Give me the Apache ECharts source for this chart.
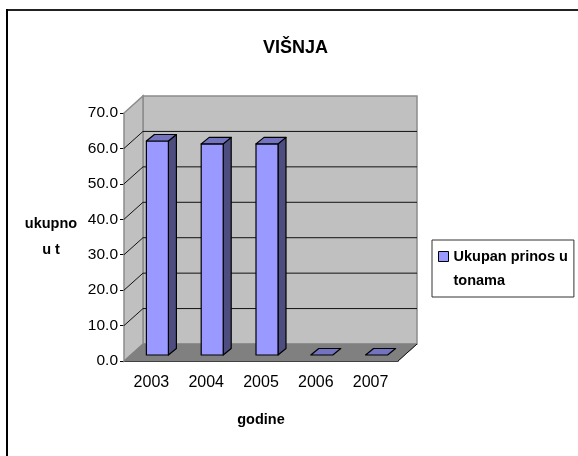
<!DOCTYPE html>
<html><head><meta charset="utf-8">
<style>html,body{margin:0;padding:0;background:#fff}#c{width:578px;height:456px}</style>
<script src="https://cdn.jsdelivr.net/npm/echarts@6/dist/echarts.min.js"></script>
</head><body><div id="c"></div>
<script>
const categories = ['2003','2004','2005','2006','2007'];
const seriesName = 'Ukupan prinos u tonama';
const values = [60.4, 59.6, 59.6, 0, 0];
const yTicks = [0,10,20,30,40,50,60,70];
const FONT = '"Liberation Sans", Arial, sans-serif';
const DX = 19, DY = -17;      // depth of the whole 3D box
const BX = 6, BY = -6;        // where the bars stand inside the box
const SX = 8, SY = -6.5;      // depth of each bar
const BAR_W = 22;
const chart = echarts.init(document.getElementById('c'), null, {renderer:'canvas'});
function pts(a){return {points:a};}
const wallsRender = (p, api) => {
  const L = api.coord([0,0]), T = api.coord([0,70]), R = api.coord([categories.length-1,0]);
  const band = api.size([1,0])[0];
  const x0 = L[0]-band/2, x1 = R[0]+band/2, y0 = L[1], y1 = T[1];
  const border = {stroke:'#8c8c8c', lineWidth:1.5};
  return {type:'group', children:[
    {type:'polygon', shape:pts([[x0+DX,y0+DY],[x1+DX,y0+DY],[x1+DX,y1+DY],[x0+DX,y1+DY]]), style:{fill:'#c0c0c0',...border}},
    {type:'polygon', shape:pts([[x0,y0],[x0+DX,y0+DY],[x0+DX,y1+DY],[x0,y1]]), style:{fill:'#c0c0c0',...border}},
    {type:'polygon', shape:pts([[x0,y0],[x1,y0],[x1+DX,y0+DY],[x0+DX,y0+DY]]), style:{fill:'#808080',stroke:'#808080',lineWidth:1}},
    {type:'line', shape:{x1:x1,y1:y0,x2:x1+DX,y2:y0+DY}, style:{stroke:'#111',lineWidth:1}}
  ]};
};
const gridRender = (p, api) => {
  const v = api.value(0);
  const L = api.coord([0,v]), R = api.coord([categories.length-1,v]);
  const band = api.size([1,0])[0];
  const x0 = L[0]-band/2, x1 = R[0]+band/2, y = L[1];
  if (v === 0 || v === 70) return null;
  return {type:'polyline', shape:pts([[x0,y],[x0+DX,y+DY],[x1+DX,y+DY]]), style:{fill:'none',stroke:'#111',lineWidth:1}};
};
const barRender = (p, api) => {
  const c = api.value(0), v = api.value(1);
  const top = api.coord([c,v]), base = api.coord([c,0]);
  const x0 = top[0]-BAR_W/2+BX, x1 = x0+BAR_W, yt = top[1]+BY, yb = base[1]+BY;
  const ln = {stroke:'#000', lineWidth:1.2, lineJoin:'round'};
  const kids = [];
  if (v > 0) {
    kids.push({type:'polygon', shape:pts([[x1,yb],[x1+SX,yb+SY],[x1+SX,yt+SY],[x1,yt]]), style:{fill:'#4d4d80',...ln}});
    kids.push({type:'polygon', shape:pts([[x0,yb],[x1,yb],[x1,yt],[x0,yt]]), style:{fill:'#9999ff',...ln}});
  }
  kids.push({type:'polygon', shape:pts([[x0,yt],[x1,yt],[x1+SX,yt+SY],[x0+SX,yt+SY]]), style:{fill:'#7373bf',...ln}});
  return {type:'group', children:kids};
};
chart.setOption({
  animation:false,
  backgroundColor:'#fff',
  title:{text:'VIŠNJA', left:290.5, top:34, textAlign:'center',
    textStyle:{fontFamily:FONT,fontSize:18,fontWeight:'bold',color:'#000'}},
  grid:{left:124,right:180,top:113,bottom:95},
  legend:{left:432,top:240,orient:'vertical',
    data:[{name:seriesName,icon:'path://M0,0H10V10H0Z M0,34L0,34'}],
    borderColor:'#333',borderWidth:1,padding:[4.5,6,4.5,6],itemWidth:10,itemHeight:34,itemGap:0,
    selectedMode:false,
    itemStyle:{color:'#9999ff',borderColor:'#000',borderWidth:1},
    formatter:()=>'Ukupan prinos u\ntonama',
    textStyle:{fontFamily:FONT,fontSize:14.5,fontWeight:'bold',color:'#000',lineHeight:24}},
  xAxis:{type:'category',data:categories,name:'godine',nameLocation:'middle',nameGap:51,
    nameTextStyle:{fontFamily:FONT,fontSize:14.5,fontWeight:'bold',color:'#000'},
    axisLine:{lineStyle:{color:'#000',width:1}},axisTick:{length:4,lineStyle:{color:'#000'}},
    axisLabel:{fontFamily:FONT,fontSize:16,color:'#000',margin:14,interval:0},splitLine:{show:false}},
  yAxis:{type:'value',min:0,max:70,interval:10,name:'ukupno\nu t',nameLocation:'middle',nameRotate:0,nameGap:73,
    nameTextStyle:{fontFamily:FONT,fontSize:14.5,fontWeight:'bold',color:'#000',lineHeight:26,align:'center'},
    axisLine:{show:true,lineStyle:{color:'#000',width:1}},axisTick:{show:true,length:4,lineStyle:{color:'#000'}},
    axisLabel:{fontFamily:FONT,fontSize:15.5,color:'#000',margin:6,formatter:v=>v.toFixed(1)},splitLine:{show:false}},
  series:[
    {type:'custom',name:'walls',renderItem:wallsRender,data:[[0]],silent:true,z:1,encode:{x:0,y:0},clip:false},
    {type:'custom',name:'grid',renderItem:gridRender,data:yTicks.map(v=>[v]),silent:true,z:2,encode:{y:0},clip:false},
    {type:'custom',name:seriesName,renderItem:barRender,data:values.map((v,i)=>[i,v]),z:3,encode:{x:0,y:1},clip:false,itemStyle:{color:'#9999ff'}}
  ],
  graphic:[
    {type:'line',shape:{x1:7,y1:10,x2:578,y2:10},style:{stroke:'#222',lineWidth:2},silent:true},
    {type:'line',shape:{x1:7,y1:9,x2:7,y2:456},style:{stroke:'#000',lineWidth:2},silent:true}
  ]
});
</script></body></html>
